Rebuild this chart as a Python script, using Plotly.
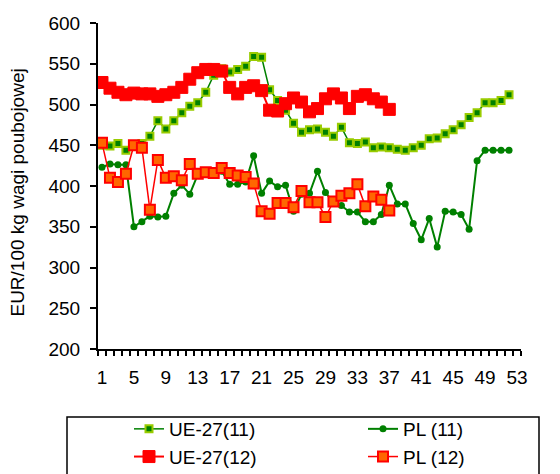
import plotly.graph_objects as go


WEEKS_11 = list(range(1, 53))
WEEKS_12 = list(range(1, 38))

UE27_11 = [450, 449, 452, 444, 449, 452, 461, 480, 470, 480,
           490, 498, 502, 515, 536, 544, 540, 543, 547, 559,
           558, 518, 505, 493, 477, 466, 469, 470, 466, 461,
           472, 453, 452, 454, 447, 448, 447, 445, 444, 447,
           450, 458, 459, 464, 469, 475, 484, 490, 502, 502,
           505, 512]

PL_11 = [423, 427, 426, 426, 350, 356, 363, 362, 363, 391,
         401, 390, 414, 415, 417, 418, 402, 402, 405, 437,
         391, 406, 399, 401, 369, 390, 391, 418, 392, 380,
         376, 368, 368, 356, 356, 365, 401, 378, 378, 354,
         334, 360, 325, 369, 368, 365, 347, 431, 444, 444,
         444, 444]

UE27_12 = [527, 520, 515, 512, 514, 513, 513, 510, 512, 515,
           521, 531, 539, 543, 543, 541, 521, 513, 521, 523,
           517, 493, 492, 501, 508, 503, 491, 495, 507, 513,
           508, 495, 510, 512, 507, 503, 494]

PL_12 = [453, 410, 405, 415, 450, 447, 371, 432, 410, 412,
         407, 427, 415, 417, 416, 422, 416, 413, 411, 403,
         369, 366, 379, 379, 374, 394, 380, 380, 362, 381,
         388, 391, 402, 375, 387, 383, 370]

X_TICKS = list(range(1, 54, 4))
Y_TITLE = 'EUR/100 kg wagi poubojowej'

FONT = 'Arial, Liberation Sans, sans-serif'
FONT_SIZE = 19

W, H = 560, 474
# plot area in pixels
L, R, T, B = 98, 521, 23, 349

fig = go.Figure()

# UE-27 series in the left legend column, PL series in the right one
fig.add_trace(go.Scatter(
    x=WEEKS_11, y=UE27_11, name='UE-27(11)', mode='lines+markers',
    line=dict(color='#008000', width=1.5),
    marker=dict(symbol='square', size=7, color='#008000',
                line=dict(color='#99CC00', width=2)),
    legend='legend',
))
fig.add_trace(go.Scatter(
    x=WEEKS_11, y=PL_11, name='PL (11)', mode='lines+markers',
    line=dict(color='#008000', width=2),
    marker=dict(symbol='circle', size=7, color='#008000'),
    legend='legend2',
))
fig.add_trace(go.Scatter(
    x=WEEKS_12, y=UE27_12, name='UE-27(12)', mode='lines+markers',
    line=dict(color='#FF0000', width=2),
    marker=dict(symbol='square', size=12, color='#FF0000',
                line=dict(color='#FF0000', width=1)),
    legend='legend',
))
fig.add_trace(go.Scatter(
    x=WEEKS_12, y=PL_12, name='PL (12)', mode='lines+markers',
    line=dict(color='#FF0000', width=1.5),
    marker=dict(symbol='square', size=10, color='#FF6600',
                line=dict(color='#FF0000', width=2)),
    legend='legend2',
))

legend_style = dict(
    xref='container', yref='container', xanchor='left', yanchor='top',
    y=1 - 410 / H, font=dict(size=FONT_SIZE), bgcolor='rgba(0,0,0,0)',
    borderwidth=0, tracegroupgap=0,
)

fig.update_layout(
    width=W, height=H,
    margin=dict(l=L, r=W - R, t=T, b=H - B, autoexpand=False),
    plot_bgcolor='white', paper_bgcolor='white',
    font=dict(family=FONT, size=FONT_SIZE, color='black'),
    showlegend=True,
    legend=dict(x=129 / W, **legend_style),
    legend2=dict(x=363 / W, **legend_style),
    xaxis=dict(
        range=[0.5, 53.5], tickvals=X_TICKS, ticks='',
        ticklabelstandoff=10, automargin=False,
        showline=True, linecolor='black', linewidth=2,
        showgrid=False, zeroline=False,
        minor=dict(ticks='outside', tick0=0.5, dtick=1, ticklen=5,
                   tickcolor='black', tickwidth=1.5, showgrid=False),
    ),
    yaxis=dict(
        range=[200, 600], dtick=50, ticks='outside', ticklen=6,
        tickcolor='black', tickwidth=1.5, ticklabelstandoff=6,
        automargin=False,
        showline=True, linecolor='black', linewidth=2,
        showgrid=False, zeroline=False,
    ),
    shapes=[dict(type='rect', xref='paper', yref='paper',
                 x0=(67 - L) / (R - L), x1=(539 - L) / (R - L),
                 y0=(B - 480) / (B - T), y1=(B - 417) / (B - T),
                 line=dict(color='black', width=1.5))],
    annotations=[dict(text=Y_TITLE, xref='paper', yref='paper',
                      x=(18 - L) / (R - L), y=0.48, textangle=-90,
                      xanchor='center', yanchor='middle',
                      showarrow=False, font=dict(size=FONT_SIZE))],
)

# drop the browser's default 8px page margin so the figure sits at 0,0
fig.write_html('out.html', config={'displayModeBar': False},
               post_script="document.body.style.margin='0px';")
